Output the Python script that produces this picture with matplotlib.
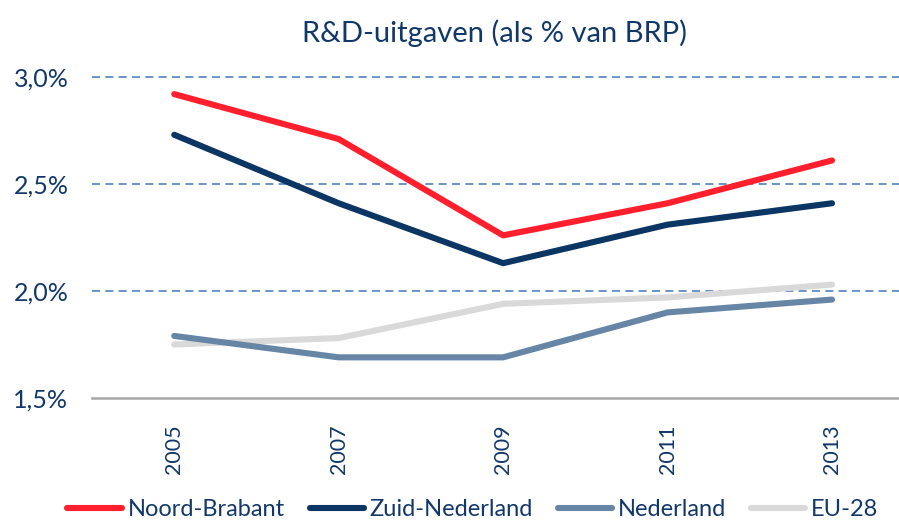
import matplotlib
matplotlib.use("Agg")
import matplotlib.pyplot as plt
from matplotlib.ticker import FuncFormatter

years = ["2005", "2007", "2009", "2011", "2013"]
noord_brabant = [2.92, 2.71, 2.26, 2.41, 2.61]
zuid_nederland = [2.73, 2.41, 2.13, 2.31, 2.41]
nederland = [1.79, 1.69, 1.69, 1.90, 1.96]
eu28 = [1.75, 1.78, 1.94, 1.97, 2.03]

series = [
    ("Noord-Brabant", noord_brabant, "#FF1F2D"),
    ("Zuid-Nederland", zuid_nederland, "#0B3563"),
    ("Nederland", nederland, "#6786A5"),
    ("EU-28", eu28, "#D9D9D9"),
]

plt.rcParams["font.family"] = ["Lato", "DejaVu Sans"]
text_color = "#12386A"

fig = plt.figure(figsize=(8.99, 5.2), dpi=100)
ax = fig.add_axes([92/899, 1-398/520, 1-92/899, (398-77)/520])

x = list(range(len(years)))
lines = {}
zorders = {"Noord-Brabant": 5, "Zuid-Nederland": 4, "Nederland": 3, "EU-28": 2}
for name, vals, col in series:
    ln, = ax.plot(x, vals, color=col, lw=4.4, solid_capstyle="round", label=name,
                  zorder=zorders[name])
    lines[name] = ln

ax.set_ylim(1.5, 3.0)
ax.set_xlim(-0.5, 4 + (899-832)/164.5)
ax.set_yticks([1.5, 2.0, 2.5, 3.0])
ax.yaxis.set_major_formatter(FuncFormatter(lambda v, p: f"{v:.1f}%".replace(".", ",")))
ax.set_xticks(x)
ax.set_xticklabels(years, rotation=90, va="top", ha="center")

for v in [2.0, 2.5, 3.0]:
    ax.axhline(v, color="#4F81BD", lw=1.2, ls=(0, (4.8, 3.2)), zorder=1, clip_on=False)
ax.axhline(1.5, color="#A6A6A6", lw=1.8, zorder=1, clip_on=False)

for s in ax.spines.values():
    s.set_visible(False)
ax.tick_params(axis="both", length=0, colors=text_color)
ax.tick_params(axis="y", pad=17, labelsize=18)
ax.tick_params(axis="x", pad=19, labelsize=15.5)
ax.patch.set_alpha(0)

fig.text(494/899, 1-33/520, "R&D-uitgaven (als % van BRP)", ha="center", va="center",
         fontsize=21, color=text_color)

handles = [lines[n] for n, _, _ in series]
leg = fig.legend(handles, [n for n, _, _ in series], loc="center", ncol=4,
                 bbox_to_anchor=(473/899, 1-510/520), frameon=False, fontsize=17,
                 handlelength=2.3, handletextpad=0.25, columnspacing=1.05,
                 borderaxespad=0, borderpad=0)
for t in leg.get_texts():
    t.set_color(text_color)

fig.savefig("out.png", dpi=100)
